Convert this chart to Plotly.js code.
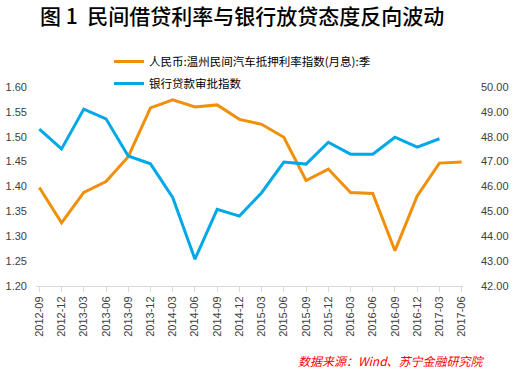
<!DOCTYPE html>
<html>
<head>
<meta charset="utf-8">
<script src="https://cdn.plot.ly/plotly-3.0.1.min.js"></script>
<style>html,body{margin:0;padding:0;background:#fff;}#chart{width:515px;height:370px;}</style>
</head>
<body>
<div id="chart"></div>
<script>
const categories = ["2012-09","2012-12","2013-03","2013-06","2013-09","2013-12","2014-03","2014-06","2014-09","2014-12","2015-03","2015-06","2015-09","2015-12","2016-03","2016-06","2016-09","2016-12","2017-03","2017-06"];
const rateIndex = [1.398,1.327,1.388,1.410,1.460,1.558,1.574,1.560,1.564,1.535,1.525,1.499,1.412,1.435,1.388,1.386,1.271,1.381,1.447,1.449];
const loanIndex = [48.31,47.51,49.11,48.72,47.23,46.91,45.56,43.08,45.08,44.81,45.75,46.98,46.90,47.78,47.30,47.30,47.98,47.58,47.92,null];
const leftTicks = [1.20,1.25,1.30,1.35,1.40,1.45,1.50,1.55,1.60];
const rightTicks = [42,43,44,45,46,47,48,49,50];
const seriesNames = ["人民币:温州民间汽车抵押利率指数(月息):季","银行贷款审批指数"];
const titleText = "图 1  民间借贷利率与银行放贷态度反向波动";
const sourceText = "数据来源：Wind、苏宁金融研究院";

const tickFont = {family:"Liberation Sans, Arial, sans-serif", size:11, color:"#404040"};
const data = [
  {x: categories, y: rateIndex, name: seriesNames[0], type:"scatter", mode:"lines",
   line:{color:"#F0900A", width:3}, yaxis:"y", legendgroup:"a"},
  {x: categories, y: loanIndex, name: seriesNames[1], type:"scatter", mode:"lines",
   line:{color:"#00A8E8", width:3}, yaxis:"y2", legendgroup:"b"}
];
const layout = {
  width:515, height:370,
  margin:{l:36, r:52, t:87, b:84},
  paper_bgcolor:"#fff", plot_bgcolor:"#fff",
  showlegend:true,
  legend:{x:(109-36)/427, y:1+(87-47)/199, xanchor:"left", yanchor:"top",
    font:{family:"Noto Sans CJK SC, sans-serif", size:11.5, color:"#000"},
    bgcolor:"rgba(0,0,0,0)", traceorder:"grouped", tracegroupgap:3, itemwidth:30},
  title:{text:titleText, x:40/515, xref:"container", xanchor:"left", y:1-17/370, yref:"container", yanchor:"middle",
    font:{family:"Noto Sans CJK SC, sans-serif", size:21, color:"#000", weight:500}},
  xaxis:{type:"category", range:[-0.15,19.06], tickvals:categories, ticktext:categories,
    tickangle:-90, tickfont:tickFont, showgrid:false, zeroline:false,
    showline:true, linecolor:"#d9d9d9", linewidth:1, ticks:"outside", ticklen:5, tickcolor:"#d9d9d9"},
  yaxis:{range:[1.2,1.6], tickvals:leftTicks, ticktext:leftTicks.map(v=>v.toFixed(2)), tickfont:tickFont,
    showgrid:false, zeroline:false, showline:false, ticks:"", ticklabelstandoff:8},
  yaxis2:{range:[42,50], overlaying:"y", side:"right", tickvals:rightTicks, ticktext:rightTicks.map(v=>v.toFixed(2)),
    tickfont:tickFont, showgrid:false, zeroline:false, showline:false, ticks:"", ticklabelstandoff:17},
  annotations:[{text:sourceText, xref:"paper", yref:"paper", x:(487-36)/427, y:-(360-286)/199,
    xanchor:"right", yanchor:"middle", showarrow:false,
    font:{family:"Noto Sans CJK SC, sans-serif", size:12, color:"#FF0000", style:"italic"}}]
};
Plotly.newPlot("chart", data, layout, {displayModeBar:false, staticPlot:true});
</script>
</body>
</html>
